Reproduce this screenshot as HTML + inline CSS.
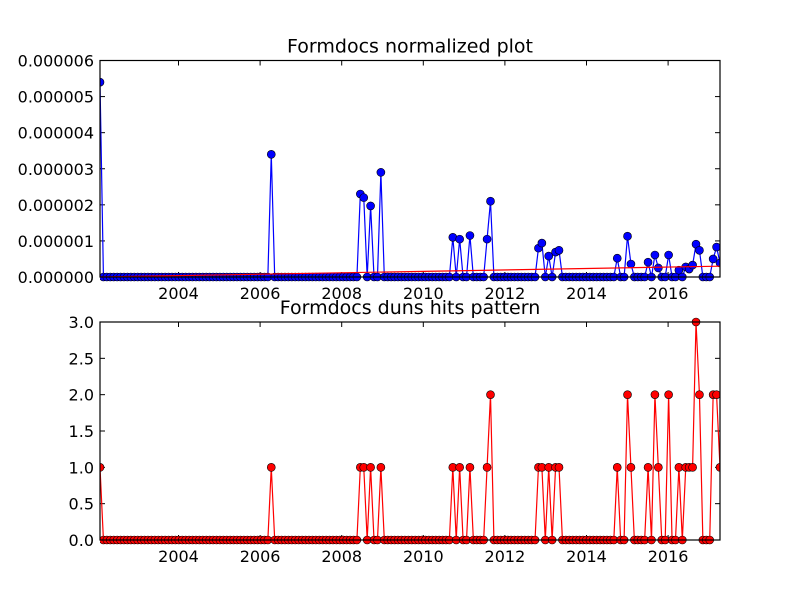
<!DOCTYPE html>
<html><head><meta charset="utf-8"><style>
html,body{margin:0;padding:0;background:#fff;}
svg{display:block;font-family:"DejaVu Sans","Liberation Sans",sans-serif;}
</style></head><body>
<svg id="chart" width="800" height="600" viewBox="0 0 800 600" xmlns="http://www.w3.org/2000/svg">
<rect width="800" height="600" fill="#ffffff"/>
</svg>
<script>
const N_MONTHS = 182;
const spikeIdx = [0,50,76,77,79,82,103,105,108,113,114,128,129,131,133,134,151,154,155,160,162,163,166,169,171,172,173,174,175,179,180,181];
const hitVals =  [1,1,1,1,1,1,1,1,1,1,2,1,1,1,1,1,1,2,1,1,2,1,2,1,1,1,1,3,2,2,2,1];
const normVals = [5.4,3.4,2.3,2.2,1.97,2.9,1.1,1.05,1.15,1.05,2.1,0.8,0.94,0.58,0.69,0.74,0.52,1.13,0.36,0.41,0.61,0.25,0.61,0.19,0.28,0.22,0.33,0.91,0.74,0.5,0.83,0.39];
const trendVals = [0.0,0.3];
const xTickYears = [2004,2006,2008,2010,2012,2014,2016];
const topTicks = [0,1,2,3,4,5,6];
const topTickLabels = ["0.000000","0.000001","0.000002","0.000003","0.000004","0.000005","0.000006"];
const botTicks = [0,0.5,1,1.5,2,2.5,3];
const botTickLabels = ["0.0","0.5","1.0","1.5","2.0","2.5","3.0"];

const NS="http://www.w3.org/2000/svg";
const svg=document.getElementById('chart');
function mk(tag,attrs,parent){const e=document.createElementNS(NS,tag);for(const k in attrs)e.setAttribute(k,attrs[k]);(parent||svg).appendChild(e);return e;}

const L=100,R=720;
const startYear=2004-(178.5-L)/40.8;
function xYear(y){return 178.5+(y-2004)*40.8;}
function xIdx(i){return L+(R-L)*i/(N_MONTHS-1);}

function series(vals){const a=new Array(N_MONTHS).fill(0);spikeIdx.forEach((k,j)=>a[k]=vals[j]);return a;}

function axes(name,top,bot,ymax,ticks,labels,title,vals,color,trend){
  const yS=v=>bot-(bot-top)*v/ymax;
  const g=mk('g',{});
  
  
  const clipId=name+'-clip';
  const cp=mk('clipPath',{id:clipId},g);mk('rect',{x:L,y:top-6,width:R-L,height:bot-top+12},cp);
  // title
  const t=mk('text',{x:410,y:top-8,'text-anchor':'middle','font-size':'19'},g);t.textContent=title;
  
  
  // y ticks
  ticks.forEach((v,i)=>{const y=yS(v);
    mk('line',{x1:L,x2:L+5,y1:y,y2:y,stroke:'#000','stroke-width':1},g);
    mk('line',{x1:R,x2:R-5,y1:y,y2:y,stroke:'#000','stroke-width':1},g);
    const tx=mk('text',{x:L-6,y:y+6,'text-anchor':'end','font-size':'16'},g);tx.textContent=labels[i];
    
    
  });
  xTickYears.forEach(yr=>{const x=xYear(yr);
    mk('line',{x1:x,x2:x,y1:bot,y2:bot-5,stroke:'#000','stroke-width':1},g);
    mk('line',{x1:x,x2:x,y1:top,y2:top+5,stroke:'#000','stroke-width':1},g);
    const tx=mk('text',{x:x,y:bot+22,'text-anchor':'middle','font-size':'16'},g);tx.textContent=yr;
    
    
  });
  const data=series(vals);
  const cg=mk('g',{'clip-path':'url(#'+clipId+')'},g);
  const pts=data.map((v,i)=>xIdx(i).toFixed(2)+','+yS(v).toFixed(2)).join(' ');
  const pl=mk('polyline',{points:pts,fill:'none',stroke:color,'stroke-width':1.2},cg);
  
  
  data.forEach((v,i)=>{const c=mk('circle',{cx:xIdx(i),cy:yS(v),r:4,fill:color,stroke:'#000','stroke-width':0.6},cg);
    
    
  });
  if(trend){const tl=mk('line',{x1:L,y1:yS(trend[0]),x2:R,y2:yS(trend[1]),stroke:'#ff0000','stroke-width':1.2},cg);
    
    }
  const fr=mk('rect',{x:L,y:top,width:R-L,height:bot-top,fill:'none',stroke:'#000','stroke-width':1.2},g);
  
  
}
axes('top-plot',60.5,277,6,topTicks,topTickLabels,'Formdocs normalized plot',normVals,'#0000ff',trendVals);
axes('bottom-plot',322,540,3,botTicks,botTickLabels,'Formdocs duns hits pattern',hitVals,'#ff0000',null);
</script>
</body></html>
